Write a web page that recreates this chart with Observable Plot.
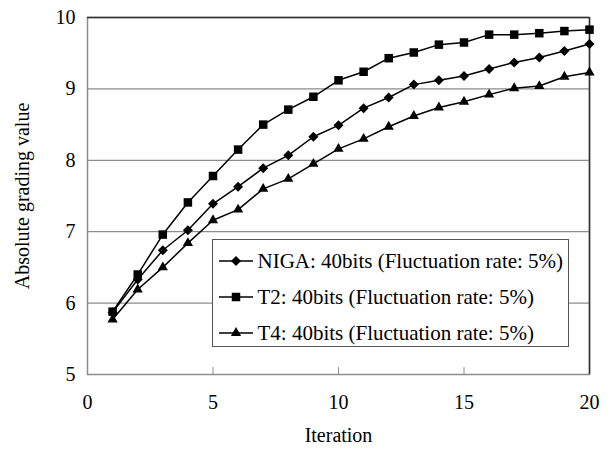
<!DOCTYPE html>
<html>
<head>
<meta charset="utf-8">
<script src="https://cdn.jsdelivr.net/npm/d3@7"></script>
<script src="https://cdn.jsdelivr.net/npm/@observablehq/plot@0.6"></script>
<style>
  html, body { margin: 0; padding: 0; background: #fff; }
</style>
</head>
<body>
<div id="wrap"></div>
<script>
const iterations = [1, 2, 3, 4, 5, 6, 7, 8, 9, 10, 11, 12, 13, 14, 15, 16, 17, 18, 19, 20];
const nigaValues = [5.87, 6.33, 6.74, 7.02, 7.39, 7.63, 7.89, 8.07, 8.33, 8.49, 8.73, 8.88, 9.06, 9.12, 9.18, 9.28, 9.37, 9.44, 9.53, 9.63];
const t2Values   = [5.88, 6.40, 6.96, 7.41, 7.78, 8.15, 8.50, 8.71, 8.89, 9.12, 9.24, 9.43, 9.51, 9.62, 9.65, 9.76, 9.76, 9.78, 9.81, 9.83];
const t4Values   = [5.77, 6.19, 6.50, 6.84, 7.16, 7.31, 7.60, 7.74, 7.95, 8.16, 8.30, 8.47, 8.62, 8.74, 8.82, 8.92, 9.01, 9.04, 9.17, 9.23];
const seriesNames = ["NIGA: 40bits (Fluctuation rate: 5%)", "T2: 40bits (Fluctuation rate: 5%)", "T4: 40bits (Fluctuation rate: 5%)"];
const seriesSymbols = ["diamond2", "square", "triangle"];
const seriesRadius = [4.5, 4.8, 3.8];
const xTicks = [0, 5, 10, 15, 20];
const yTicks = [5, 6, 7, 8, 9, 10];
const gridValues = [6, 7, 8, 9];
const xLabel = "Iteration";
const yLabel = "Absolute grading value";

const allSeries = [nigaValues, t2Values, t4Values];
const rows = allSeries.flatMap((vals, s) => iterations.map((it, i) => ({series: seriesNames[s], s, x: it, y: vals[i]})));

const font = '"Liberation Serif", "Times New Roman", serif';
const symMap = {diamond2: d3.symbolDiamond2, square: d3.symbolSquare, triangle: d3.symbolTriangle};

const mL = 87, mT = 17;
const legX = 212, legY = 239, legW = 357, legH = 108, legRowH = 36, legFirst = 22;

// Legend box and swatches (render-function mark)
function legendBox() {
  const g = d3.create("svg:g").attr("transform", `translate(${legX},${legY})`);
  g.append("rect").attr("x", 0.5).attr("y", 0.5).attr("width", legW - 1).attr("height", legH - 1)
    .attr("fill", "#fff").attr("stroke", "#555").attr("stroke-width", 1);
  seriesNames.forEach((name, s) => {
    const r = g.append("g").attr("transform", `translate(7,${legFirst + s * legRowH})`);
    r.append("line").attr("x1", 0).attr("x2", 34).attr("stroke", "#000").attr("stroke-width", 1.5);
    const size = Math.PI * seriesRadius[s] * seriesRadius[s];
    r.append("path").attr("transform", "translate(17,0)").attr("d", d3.symbol(symMap[seriesSymbols[s]], size)()).attr("fill", "#000");
  });
  return g.node();
}

const marks = [
  Plot.ruleY(gridValues, {stroke: "#8c8c8c", strokeWidth: 1.3}),
  Plot.ruleX(xTicks.slice(1, -1), {y1: 5, y2: 5, insetTop: -7, stroke: "#8c8c8c", strokeWidth: 1}),
  Plot.frame({stroke: "#8c8c8c", strokeWidth: 1.5}),
  Plot.ruleY([10], {stroke: "#333", strokeWidth: 1.5}),
  Plot.ruleX([20], {stroke: "#333", strokeWidth: 1.5}),
  Plot.axisX({ticks: xTicks, tickFormat: d3.format("d"), tickSize: 0, tickPadding: 20, fontSize: 20, label: xLabel, labelArrow: "none", labelAnchor: "center", labelOffset: 67}),
  Plot.axisY({ticks: yTicks, tickFormat: d3.format("d"), tickSize: 0, tickPadding: 12, fontSize: 20, label: yLabel, labelArrow: "none", labelAnchor: "center", labelOffset: 73})
];
allSeries.forEach((vals, s) => {
  const data = rows.filter(d => d.s === s);
  marks.push(Plot.line(data, {x: "x", y: "y", stroke: "#000", strokeWidth: 1.5}));
  marks.push(Plot.dot(data, {x: "x", y: "y", symbol: () => seriesSymbols[s], r: seriesRadius[s], fill: "#000", stroke: "none"}));
});
marks.push(legendBox);
seriesNames.forEach((name, s) => {
  marks.push(Plot.text([name], {
    text: d => d,
    frameAnchor: "top-left",
    dx: legX + 45 - mL,
    dy: legY + legFirst + s * legRowH - mT,
    textAnchor: "start",
    lineAnchor: "middle",
    fontSize: 21,
    fontFamily: "Times New Roman, Liberation Serif, serif",
    fill: "#000"
  }));
});

const chart = Plot.plot({
  width: 615,
  height: 450,
  marginLeft: mL,
  marginRight: 26,
  marginTop: mT,
  marginBottom: 76,
  style: {fontFamily: font, fontSize: "20px", color: "#000", background: "#fff"},
  x: {domain: [0, 20]},
  y: {domain: [5, 10]},
  symbol: {type: "identity"},
  marks
});

document.getElementById("wrap").appendChild(chart);
</script>
</body>
</html>
